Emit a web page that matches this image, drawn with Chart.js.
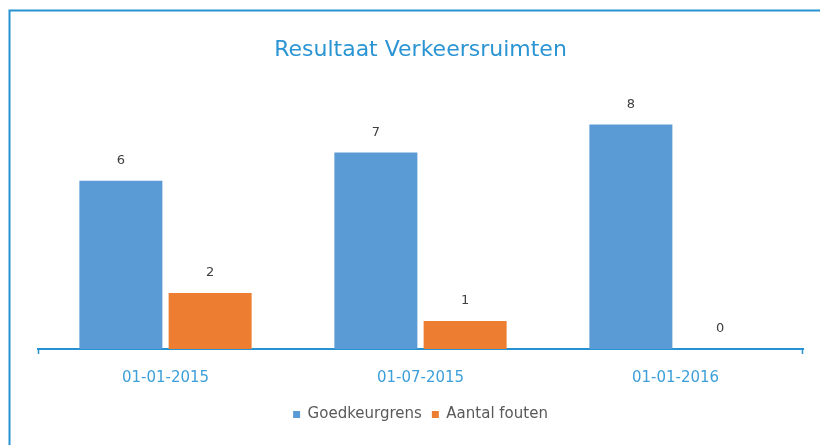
<!DOCTYPE html>
<html>
<head>
<meta charset="utf-8">
<script src="https://cdn.jsdelivr.net/npm/chart.js@4"></script>
<style>
  html, body { margin: 0; padding: 0; background: #ffffff; }
  #wrap { width: 820px; height: 445px; }
</style>
</head>
<body>
<div id="wrap"><canvas id="c" width="820" height="445"></canvas></div>
<script>
const categories = ['01-01-2015', '01-07-2015', '01-01-2016'];
const goedkeurgrens = [6, 7, 8];
const aantalFouten = [2, 1, 0];
const seriesNames = ['Goedkeurgrens', 'Aantal fouten'];
const chartTitle = 'Resultaat Verkeersruimten';

const FONT = "'DejaVu Sans', sans-serif";
const BLUE_LINE = '#2792d2';

const framePlugin = {
  id: 'frame',
  beforeDraw(chart) {
    const ctx = chart.ctx;
    ctx.save();
    ctx.strokeStyle = BLUE_LINE;
    ctx.lineWidth = 2;
    ctx.beginPath();
    ctx.moveTo(9.5, 445);
    ctx.lineTo(9.5, 10.5);
    ctx.lineTo(820, 10.5);
    ctx.stroke();
    ctx.restore();
  },
  afterDraw(chart) {
    const ctx = chart.ctx;
    const a = chart.chartArea;
    ctx.save();
    ctx.strokeStyle = BLUE_LINE;
    ctx.lineWidth = 1.5;
    ctx.beginPath();
    ctx.moveTo(a.left + 0.5, a.bottom);
    ctx.lineTo(a.left + 0.5, a.bottom + 5);
    ctx.moveTo(a.right - 0.5, a.bottom);
    ctx.lineTo(a.right - 0.5, a.bottom + 5);
    ctx.stroke();
    ctx.restore();
  }
};

const valueLabels = {
  id: 'valueLabels',
  afterDatasetsDraw(chart) {
    const ctx = chart.ctx;
    ctx.save();
    ctx.font = '13px ' + FONT;
    ctx.fillStyle = '#404040';
    ctx.textAlign = 'center';
    ctx.textBaseline = 'middle';
    chart.data.datasets.forEach((ds, i) => {
      const meta = chart.getDatasetMeta(i);
      meta.data.forEach((el, j) => {
        ctx.fillText(String(ds.data[j]), el.x, el.y - 20);
      });
    });
    ctx.restore();
  }
};

new Chart(document.getElementById('c'), {
  type: 'bar',
  data: {
    labels: categories,
    datasets: [
      { label: seriesNames[0], data: goedkeurgrens, backgroundColor: '#5b9bd5',
        categoryPercentage: 0.7, barPercentage: 0.93 },
      { label: seriesNames[1], data: aantalFouten, backgroundColor: '#ed7d31',
        categoryPercentage: 0.7, barPercentage: 0.93 }
    ]
  },
  options: {
    responsive: false,
    animation: false,
    layout: { padding: { left: 38, right: 17, top: 0, bottom: 13 } },
    plugins: {
      title: {
        display: true,
        text: chartTitle,
        color: '#2b95d3',
        font: { family: FONT, size: 22, weight: 'normal' },
        padding: { top: 37, bottom: 5 }
      },
      legend: {
        position: 'bottom',
        labels: {
          color: '#595959',
          font: { family: FONT, size: 15 },
          boxWidth: 7,
          boxHeight: 7,
          padding: 10
        }
      },
      tooltip: { enabled: false }
    },
    scales: {
      x: {
        grid: { display: false, drawTicks: false, tickLength: 0 },
        border: { display: true, color: BLUE_LINE, width: 2 },
        ticks: { color: '#3d9fd9', font: { family: FONT, size: 15 }, padding: 20 },
        afterFit(scale) { scale.height -= 10; }
      },
      y: {
        display: false,
        min: 0,
        max: 10
      }
    }
  },
  plugins: [framePlugin, valueLabels]
});
</script>
</body>
</html>
